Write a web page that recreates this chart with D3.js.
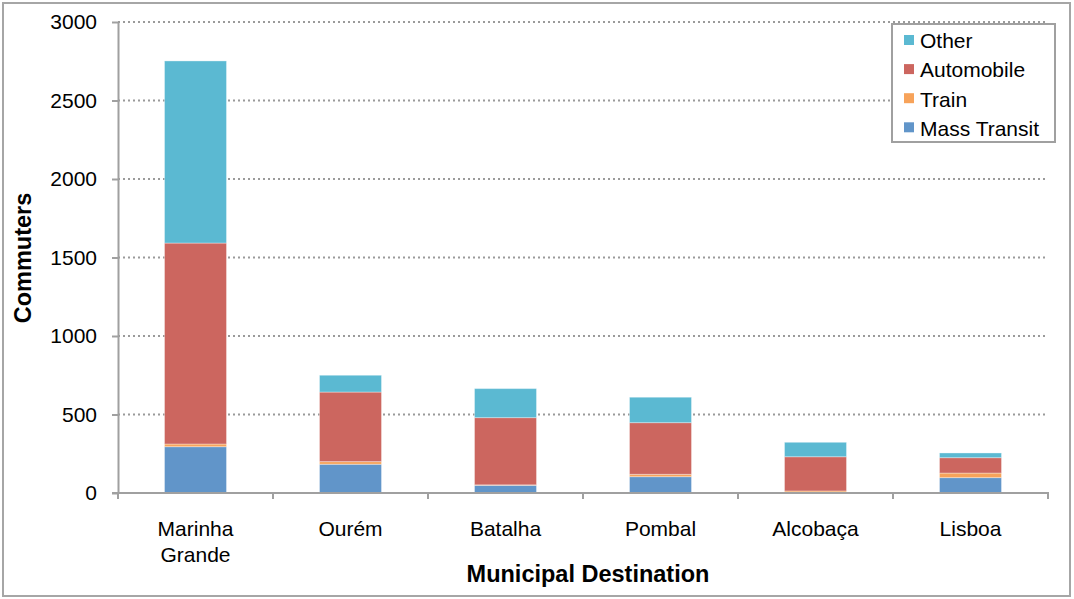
<!DOCTYPE html>
<html>
<head>
<meta charset="utf-8">
<title>Commuters by destination</title>
<script src="https://d3js.org/d3.v7.min.js"></script>
<style>
    body { margin: 0; background: #fff; }
    text { font-family: "Liberation Sans", Arial, sans-serif; fill: #000; }
    .grid line { stroke: #9a9a9a; stroke-width: 2; stroke-dasharray: 2,3; }
    .axis path, .axis line { stroke: #a0a0a0; stroke-width: 2; }
</style>
</head>
<body>
<svg width="1074" height="599"></svg>
<script>
var categories = ["Marinha Grande", "Ourém", "Batalha", "Pombal", "Alcobaça", "Lisboa"];
var seriesNames = ["Mass Transit", "Train", "Automobile", "Other"];
var massTransit = [295, 183, 49, 104, 4, 98];
var train = [17, 17, 3, 15, 9, 29];
var automobile = [1280, 443, 428, 329, 218, 98];
var other = [1160, 107, 185, 162, 92, 30];
var yTicks = [0, 500, 1000, 1500, 2000, 2500, 3000];
var colors = ["#6195c9", "#f7a35a", "#cc665f", "#5bb9d2"];

var svg = d3.select("svg");
var mLeft = 118, mTop = 22, mRight = 1048, mBottom = 493;

svg.append("rect")
    .attr("x", 3).attr("y", 3).attr("width", 1067).attr("height", 593)
    .attr("fill", "none").attr("stroke", "#a6a6a6").attr("stroke-width", 2);

var x = d3.scaleBand().domain(categories).range([mLeft, mRight]).paddingInner(0.6).paddingOuter(0.3);
var xb = d3.scaleBand().domain(categories).range([mLeft, mRight]);
var y = d3.scaleLinear().domain([0, 3000]).range([mBottom, mTop]);

// gridlines
svg.append("g").attr("class", "grid")
    .selectAll("line").data(yTicks.slice(1)).enter().append("line")
    .attr("x1", mLeft).attr("x2", mRight)
    .attr("y1", function(d) { return y(d); })
    .attr("y2", function(d) { return y(d); });

var table = categories.map(function(c, i) {
    return { cat: c, "Mass Transit": massTransit[i], "Train": train[i], "Automobile": automobile[i], "Other": other[i] };
});
var stacked = d3.stack().keys(seriesNames)(table);

svg.append("g").selectAll("g").data(stacked).enter().append("g")
    .attr("fill", function(d, i) { return colors[i]; })
    .selectAll("rect").data(function(d) { return d; }).enter().append("rect")
    .attr("x", function(d) { return x(d.data.cat); })
    .attr("width", x.bandwidth())
    .attr("y", function(d) { return y(d[1]); })
    .attr("height", function(d) { return y(d[0]) - y(d[1]); })
    .attr("stroke", "#ffffff").attr("stroke-opacity", 0.35).attr("stroke-width", 1);

// y axis
var yAxis = svg.append("g").attr("class", "axis")
    .attr("transform", "translate(" + mLeft + ",0)")
    .call(d3.axisLeft(y).tickValues(yTicks).tickFormat(d3.format("d")).tickSize(6).tickSizeOuter(0).tickPadding(15));
yAxis.selectAll("text").attr("font-size", "21px").attr("font-family", "Liberation Sans, Arial, sans-serif");

// x axis
var xAxis = svg.append("g").attr("class", "axis")
    .attr("transform", "translate(0," + mBottom + ")");
xAxis.append("line").attr("x1", mLeft - 6).attr("x2", mRight + 1).attr("y1", 0).attr("y2", 0);
xAxis.selectAll(".tk").data(categories.concat(["end"])).enter().append("line")
    .attr("x1", function(d, i) { return mLeft + i * xb.bandwidth(); })
    .attr("x2", function(d, i) { return mLeft + i * xb.bandwidth(); })
    .attr("y1", 0).attr("y2", 6);

var labels = xAxis.selectAll(".lbl").data(categories).enter().append("text")
    .attr("text-anchor", "middle")
    .attr("font-size", "21px")
    .attr("x", function(d) { return xb(d) + xb.bandwidth() / 2; })
    .attr("y", 43);
labels.each(function(d) {
    var parts = d === "Marinha Grande" ? ["Marinha", "Grande"] : [d];
    var t = d3.select(this);
    parts.forEach(function(p, k) {
        t.append("tspan").attr("x", xb(d) + xb.bandwidth() / 2).attr("dy", k === 0 ? 0 : 26).text(p);
    });
});

// axis titles
svg.append("text")
    .attr("transform", "translate(31,258) rotate(-90)")
    .attr("text-anchor", "middle")
    .attr("font-size", "23.5px").attr("font-weight", "bold")
    .text("Commuters");
svg.append("text")
    .attr("x", 588).attr("y", 582)
    .attr("text-anchor", "middle")
    .attr("font-size", "23.5px").attr("font-weight", "bold")
    .text("Municipal Destination");

// legend
var legend = svg.append("g");
legend.append("rect")
    .attr("x", 892).attr("y", 24).attr("width", 163).attr("height", 118)
    .attr("fill", "#fff").attr("stroke", "#a0a0a0").attr("stroke-width", 2);
var order = [3, 2, 1, 0];
order.forEach(function(si, k) {
    legend.append("rect")
        .attr("x", 904).attr("y", 35 + k * 29.1).attr("width", 10).attr("height", 10)
        .attr("fill", colors[si]);
    legend.append("text")
        .attr("x", 920).attr("y", 48.3 + k * 29.1)
        .attr("font-size", "21px")
        .text(seriesNames[si]);
});
</script>
</body>
</html>
